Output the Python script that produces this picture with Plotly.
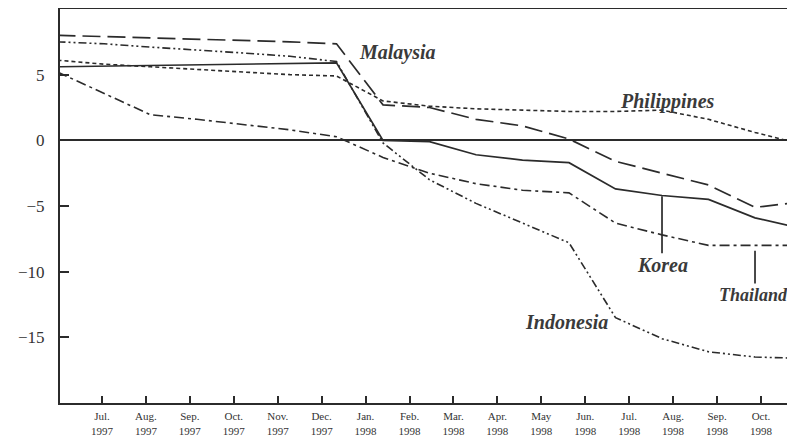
import plotly.graph_objects as go

months = ["Jun. 1997", "Jul. 1997", "Aug. 1997", "Sep. 1997", "Oct. 1997", "Nov. 1997",
          "Dec. 1997", "Jan. 1998", "Feb. 1998", "Mar. 1998", "Apr. 1998", "May 1998",
          "Jun. 1998", "Jul. 1998", "Aug. 1998", "Sep. 1998", "Oct. 1998"]

malaysia    = [8.0, 7.9, 7.85, 7.75, 7.65, 7.5, 7.35, 2.7, 2.5, 1.6, 1.1, 0.1, -1.6, -2.5, -3.4, -5.1, -4.7]
korea       = [5.6, 5.65, 5.7, 5.8, 5.85, 5.9, 5.9, 0.0, -0.1, -1.1, -1.5, -1.7, -3.7, -4.2, -4.5, -5.9, -6.7]
philippines = [6.1, 5.8, 5.6, 5.4, 5.2, 5.0, 4.9, 3.0, 2.6, 2.4, 2.3, 2.2, 2.2, 2.3, 1.6, 0.6, -0.3]
thailand    = [5.2, 3.6, 1.95, 1.6, 1.2, 0.8, 0.27, -1.3, -2.5, -3.3, -3.8, -4.0, -6.3, -7.2, -8.0, -8.0, -8.0]
indonesia   = [7.5, 7.35, 7.1, 6.9, 6.65, 6.4, 6.0, -0.2, -3.0, -4.8, -6.3, -7.8, -13.5, -15.1, -16.1, -16.5, -16.6]

tick_labels = ["Jul.<br>1997", "Aug.<br>1997", "Sep.<br>1997", "Oct.<br>1997", "Nov.<br>1997",
               "Dec.<br>1997", "Jan.<br>1998", "Feb.<br>1998", "Mar.<br>1998", "Apr.<br>1998",
               "May<br>1998", "Jun.<br>1998", "Jul.<br>1998", "Aug.<br>1998", "Sep.<br>1998",
               "Oct.<br>1998"]
y_ticks = [5, 0, -5, -10, -15]

x = list(range(len(months)))
ink = "#2b2b2b"
serif = "Liberation Serif, Times New Roman, serif"

series = [
    ("Malaysia", malaysia, "18px,7px", 1.7),
    ("Korea", korea, "solid", 1.7),
    ("Philippines", philippines, "4px,3px", 1.6),
    ("Thailand", thailand, "10px,4px,3px,4px", 1.6),
    ("Indonesia", indonesia, "8px,3px,2px,3px,2px,3px", 1.6),
]

fig = go.Figure()
for name, vals, dash, w in series:
    fig.add_trace(go.Scatter(x=x, y=vals, mode="lines", name=name,
                             customdata=months,
                             line=dict(color=ink, width=w, dash=dash),
                             hovertemplate="%{customdata}: %{y}<extra>" + name + "</extra>"))

# pointer lines for Korea and Thailand labels
k_i, t_i = 13, 15
fig.add_shape(type="line", x0=x[k_i], x1=x[k_i], y0=korea[k_i] - 0.05, y1=-8.6,
              line=dict(color=ink, width=1.7))
fig.add_shape(type="line", x0=x[t_i], x1=x[t_i], y0=thailand[t_i] - 0.4, y1=-10.9,
              line=dict(color=ink, width=1.7))

lab_font = dict(family=serif, size=20, color="#3a3a3a")
fig.add_annotation(x=6.44, y=6.68, text="<b><i>Malaysia</i></b>", showarrow=False,
                   xanchor="left", font=lab_font)
fig.add_annotation(x=12.05, y=2.94, text="<b><i>Philippines</i></b>", showarrow=False,
                   xanchor="left", font=lab_font)
fig.add_annotation(x=x[k_i], y=-9.5, text="<b><i>Korea</i></b>", showarrow=False,
                   xanchor="center", font=lab_font)
fig.add_annotation(x=15.76, y=-11.8, text="<b><i>Thailand</i></b>", showarrow=False,
                   xanchor="right", font=dict(family=serif, size=18, color="#3a3a3a"))
fig.add_annotation(x=10.0, y=-13.85, text="<b><i>Indonesia</i></b>", showarrow=False,
                   xanchor="left", font=lab_font)

# tick positions (layout): labelled ticks are spaced slightly tighter than the data points
tick_pos = [0.957 + 0.9447 * i for i in range(len(tick_labels))]

# the page body has an 8px margin, so the figure is sized and offset to compensate
fig.update_layout(
    width=787, height=431,
    margin=dict(l=52, r=0, t=1, b=36),
    paper_bgcolor="white", plot_bgcolor="white",
    showlegend=False,
    xaxis=dict(range=[0.054, 15.86], tickvals=tick_pos, ticktext=tick_labels,
               ticks="inside", ticklen=7, tickwidth=1.6, tickcolor=ink,
               showline=True, linecolor=ink, linewidth=2, mirror=True,
               showgrid=False, zeroline=False, automargin=False, ticklabelstandoff=2,
               tickfont=dict(family=serif, size=11, color="#333333")),
    yaxis=dict(range=[-20, 10], tickvals=y_ticks,
               ticks="inside", ticklen=9, tickwidth=1.6, tickcolor=ink,
               showline=True, linecolor=ink, linewidth=2,
               showgrid=False, zeroline=True, zerolinecolor=ink, zerolinewidth=1.7,
               automargin=False, ticklabelstandoff=10,
               tickfont=dict(family=serif, size=17, color="#333333")),
)

fig.write_html("out.html")
